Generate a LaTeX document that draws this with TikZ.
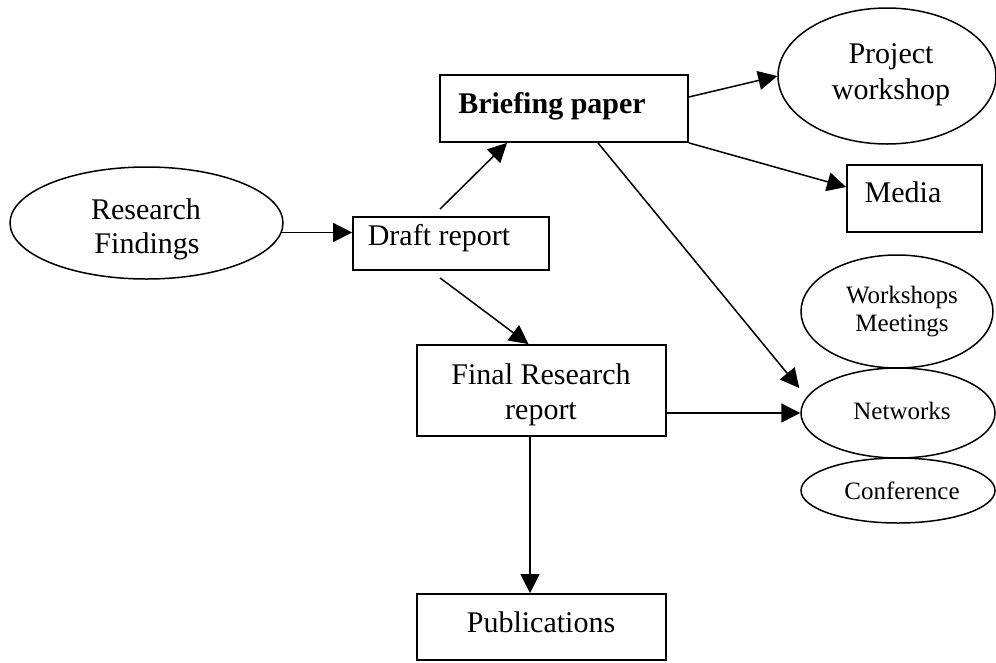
\documentclass[tikz,border=0pt]{standalone}
\usepackage{fontspec}
\setmainfont{Liberation Serif}
\usetikzlibrary{arrows.meta,shapes.geometric}
\begin{document}
\begin{tikzpicture}[x=1pt,y=-1pt,
  box/.style={draw, line width=1.8pt, rectangle, inner sep=0pt},
  oval/.style={draw, line width=1.5pt, ellipse, inner sep=0pt},
  big/.style={font=\fontsize{30}{35}\selectfont, inner sep=0pt, anchor=base},
  bigb/.style={font=\fontsize{30}{35}\selectfont\bfseries, inner sep=0pt, anchor=base},
  small/.style={font=\fontsize{25}{28}\selectfont, inner sep=0pt, anchor=base},
  arr/.style={line width=1.5pt, -{Triangle[length=19pt,width=19pt]}}]
\useasboundingbox (0,0) rectangle (996,662);

% shapes
\node[oval, minimum width=273pt, minimum height=112pt] (rf) at (146.5,223) {};
\node[box, minimum width=196pt, minimum height=53pt] (draft) at (451,243.5) {};
\node[box, minimum width=248pt, minimum height=67pt] (briefing) at (564,108.5) {};
\node[oval, minimum width=218pt, minimum height=136pt] (project) at (887,76) {};
\node[box, minimum width=135pt, minimum height=67pt] (media) at (914.5,198.5) {};
\node[oval, minimum width=192pt, minimum height=113pt] (workshops) at (897,311.5) {};
\node[oval, minimum width=194pt, minimum height=90pt] (networks) at (898,413) {};
\node[oval, minimum width=194pt, minimum height=65pt] (conference) at (898,490.5) {};
\node[box, minimum width=249pt, minimum height=91pt] (final) at (541.5,390.5) {};
\node[box, minimum width=249pt, minimum height=66pt] (pubs) at (541.5,627) {};

% texts
\node[big] (rfa) at (146,219) {Research};
\node[big] (rfb) at (147,253) {Findings};
\node[big] (draftt) at (439,245) {Draft report};
\node[bigb] (briefingt) at (552,113) {Briefing paper};
\node[big] (projecta) at (891,63) {Project};
\node[big] (projectb) at (891,99) {workshop};
\node[big] (mediat) at (903,202) {Media};
\node[small] (worka) at (902,303) {Workshops};
\node[small] (workb) at (902,331) {Meetings};
\node[small] (networkst) at (902,419) {Networks};
\node[small] (conferencet) at (902,499) {Conference};
\node[big] (finala) at (541,384) {Final Research};
\node[big] (finalb) at (541,419) {report};
\node[big] (pubst) at (541,632) {Publications};

% connectors
\draw[arr] (rf.-4) -- (rf.-4 -| draft.west);
\draw[arr] ([xshift=-11pt,yshift=7pt]draft.north) -- ([xshift=-57pt]briefing.south);
\draw[arr] ([xshift=-11pt,yshift=-7pt]draft.south) -- ([xshift=-13pt]final.north);
\draw[arr] ([yshift=11.5pt]briefing.east) -- (project.west);
\draw[arr] (briefing.south east) -- ([yshift=11.5pt]media.west);
\draw[arr] ([xshift=34pt]briefing.south) -- ([xshift=-1pt,yshift=25pt]networks.west);
\draw[arr] (networks.west -| final.east) -- (networks.west);
\draw[arr] ([xshift=-11.5pt]final.south) -- ([xshift=-11.5pt]pubs.north);
\end{tikzpicture}
\end{document}
